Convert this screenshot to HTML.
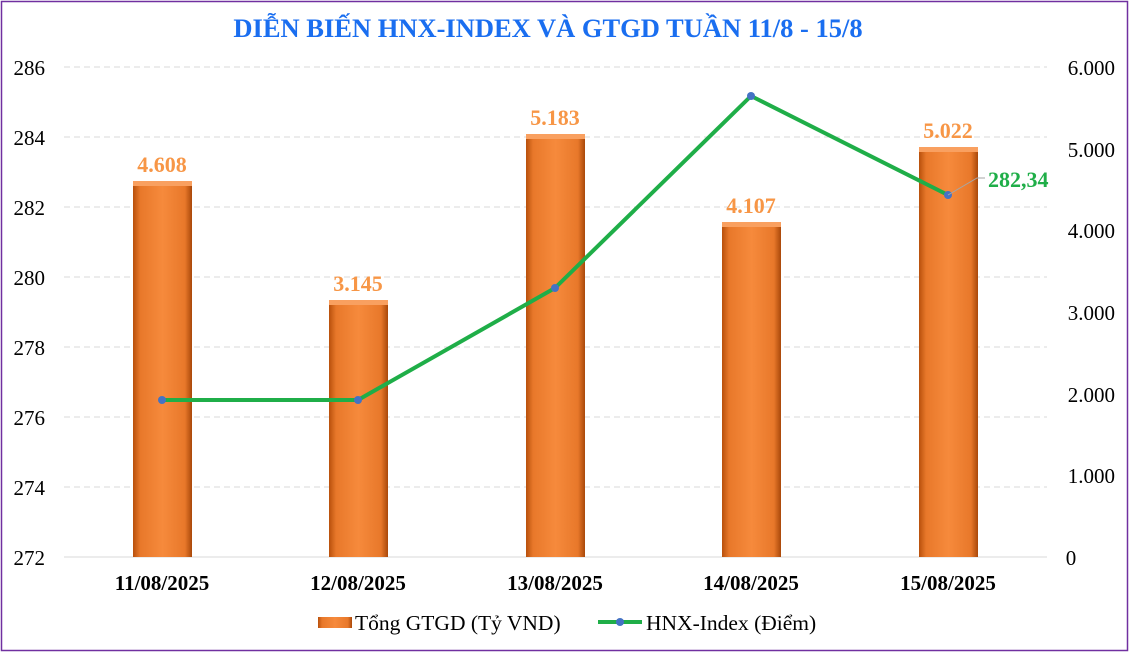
<!DOCTYPE html>
<html><head><meta charset="utf-8"><style>
html,body{margin:0;padding:0;background:#fff}
svg{display:block}
text{font-family:"Liberation Serif",serif}
</style></head><body>
<svg width="1129" height="652" viewBox="0 0 1129 652">
<defs>
<linearGradient id="bg" x1="0" x2="1" y1="0" y2="0">
<stop offset="0" stop-color="#b8500c"/>
<stop offset="0.12" stop-color="#e8782a"/>
<stop offset="0.5" stop-color="#f68a3c"/>
<stop offset="0.88" stop-color="#e8782a"/>
<stop offset="1" stop-color="#a9480a"/>
</linearGradient>
</defs>
<rect x="1.5" y="1.5" width="1126" height="649" fill="#fff" stroke="#7030a0" stroke-width="1.5"/>
<text x="548" y="37" text-anchor="middle" font-size="26.5" font-weight="bold" fill="#1a6ef0">DIỄN BIẾN HNX-INDEX VÀ GTGD TUẦN 11/8 - 15/8</text>
<g stroke="#d9d9d9" stroke-dasharray="6,4" stroke-width="1">
<line x1="64" x2="1047" y1="67" y2="67"/>
<line x1="64" x2="1047" y1="137" y2="137"/>
<line x1="64" x2="1047" y1="207" y2="207"/>
<line x1="64" x2="1047" y1="277" y2="277"/>
<line x1="64" x2="1047" y1="347" y2="347"/>
<line x1="64" x2="1047" y1="417" y2="417"/>
<line x1="64" x2="1047" y1="487" y2="487"/>
</g>
<line x1="64" x2="1047" y1="557" y2="557" stroke="#d9d9d9"/>
<g font-size="21" fill="#000">
<text x="45" y="75" text-anchor="end">286</text>
<text x="45" y="145" text-anchor="end">284</text>
<text x="45" y="215" text-anchor="end">282</text>
<text x="45" y="285" text-anchor="end">280</text>
<text x="45" y="355" text-anchor="end">278</text>
<text x="45" y="425" text-anchor="end">276</text>
<text x="45" y="495" text-anchor="end">274</text>
<text x="45" y="565" text-anchor="end">272</text>
<text x="1115" y="75" text-anchor="end">6.000</text>
<text x="1115" y="157" text-anchor="end">5.000</text>
<text x="1115" y="238" text-anchor="end">4.000</text>
<text x="1115" y="320" text-anchor="end">3.000</text>
<text x="1115" y="402" text-anchor="end">2.000</text>
<text x="1115" y="483" text-anchor="end">1.000</text>
<text x="1071" y="565" text-anchor="middle">0</text>
</g>
<g>
<rect x="133" y="181" width="59" height="376" fill="url(#bg)"/>
<rect x="133" y="181" width="59" height="5" fill="#f9a060"/>
<rect x="329" y="300" width="59" height="257" fill="url(#bg)"/>
<rect x="329" y="300" width="59" height="5" fill="#f9a060"/>
<rect x="526" y="134" width="59" height="423" fill="url(#bg)"/>
<rect x="526" y="134" width="59" height="5" fill="#f9a060"/>
<rect x="722" y="222" width="59" height="335" fill="url(#bg)"/>
<rect x="722" y="222" width="59" height="5" fill="#f9a060"/>
<rect x="919" y="147" width="59" height="410" fill="url(#bg)"/>
<rect x="919" y="147" width="59" height="5" fill="#f9a060"/>
</g>
<g font-size="22" font-weight="bold" fill="#f79646" text-anchor="middle">
<text x="162" y="172">4.608</text>
<text x="358" y="291">3.145</text>
<text x="555" y="125">5.183</text>
<text x="751" y="213">4.107</text>
<text x="948" y="138">5.022</text>
</g>
<polyline points="162,400 358,400 555,288 751,96 948,195" fill="none" stroke="#1fae48" stroke-width="4" stroke-linejoin="round"/>
<g fill="#4472c4">
<circle cx="162" cy="400" r="4"/><circle cx="358" cy="400" r="4"/><circle cx="555" cy="288" r="4"/><circle cx="751" cy="96" r="4"/><circle cx="948" cy="195" r="4"/>
</g>
<polyline points="948,195 977,178 985,178" fill="none" stroke="#a6a6a6" stroke-width="1"/>
<text x="988" y="187" font-size="22" font-weight="bold" fill="#1fae48">282,34</text>
<g font-size="21" font-weight="bold" fill="#000" text-anchor="middle">
<text x="162" y="590">11/08/2025</text>
<text x="358" y="590">12/08/2025</text>
<text x="555" y="590">13/08/2025</text>
<text x="751" y="590">14/08/2025</text>
<text x="948" y="590">15/08/2025</text>
</g>
<rect x="318" y="617" width="34" height="11" fill="url(#bg)"/>
<text x="355" y="630" font-size="21.5" fill="#000">Tổng GTGD (Tỷ VND)</text>
<line x1="598" x2="642" y1="622" y2="622" stroke="#1fae48" stroke-width="4"/>
<circle cx="620" cy="622" r="4" fill="#4472c4"/>
<text x="646" y="630" font-size="21.5" fill="#000">HNX-Index (Điểm)</text>
</svg>
</body></html>
